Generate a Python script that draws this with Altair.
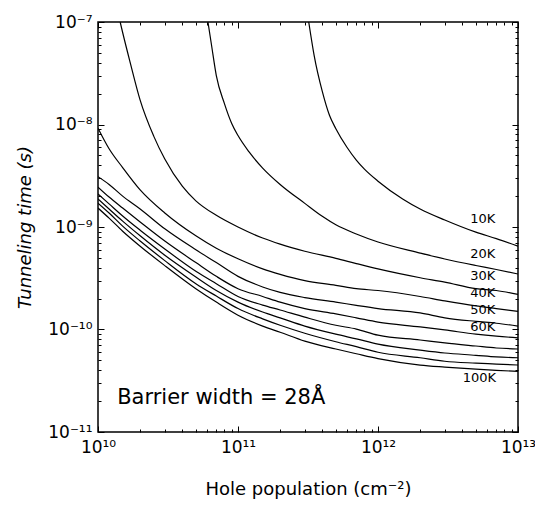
import altair as alt
import pandas as pd

# ---- data (x: hole population cm^-2, y: tunneling time s)
n_lower = [1e10, 1.2e10, 1.5e10, 2e10, 3e10, 5e10, 7e10, 1e11, 1.5e11, 2e11,
           3e11, 5e11, 7e11, 1e12, 2e12, 3e12, 5e12, 7e12, 1e13]

t_40K = [9.2e-9, 5.8e-9, 3.8e-9, 2.3e-9, 1.37e-9, 8.2e-10, 6.2e-10, 4.9e-10, 3.9e-10, 3.45e-10,
         3.0e-10, 2.7e-10, 2.5e-10, 2.4e-10, 2.1e-10, 1.9e-10, 1.7e-10, 1.6e-10, 1.5e-10]
t_50K = [3.1e-9, 2.6e-9, 2.0e-9, 1.5e-9, 9.6e-10, 6.0e-10, 4.5e-10, 3.3e-10, 2.6e-10, 2.3e-10,
         2.05e-10, 1.85e-10, 1.72e-10, 1.6e-10, 1.45e-10, 1.3e-10, 1.2e-10, 1.15e-10, 1.08e-10]
t_60K = [2.45e-9, 1.96e-9, 1.53e-9, 1.12e-9, 7.3e-10, 4.5e-10, 3.3e-10, 2.5e-10, 2.1e-10, 1.85e-10,
         1.6e-10, 1.42e-10, 1.3e-10, 1.18e-10, 1.06e-10, 9.9e-11, 9.0e-11, 8.6e-11, 8.3e-11]
t_70K = [2.1e-9, 1.68e-9, 1.28e-9, 9.3e-10, 6.1e-10, 3.7e-10, 2.8e-10, 2.1e-10, 1.73e-10, 1.55e-10,
         1.32e-10, 1.1e-10, 1.01e-10, 8.8e-11, 7.9e-11, 7.4e-11, 6.9e-11, 6.6e-11, 6.45e-11]
t_80K = [1.88e-9, 1.5e-9, 1.14e-9, 8.2e-10, 5.3e-10, 3.25e-10, 2.4e-10, 1.85e-10, 1.48e-10, 1.3e-10,
         1.08e-10, 9.0e-11, 8.1e-11, 7.2e-11, 6.3e-11, 5.9e-11, 5.6e-11, 5.4e-11, 5.3e-11]
t_90K = [1.71e-9, 1.37e-9, 1.02e-9, 7.3e-10, 4.7e-10, 2.8e-10, 2.12e-10, 1.6e-10, 1.27e-10, 1.1e-10,
         9.2e-11, 7.6e-11, 6.8e-11, 6.0e-11, 5.3e-11, 4.9e-11, 4.7e-11, 4.6e-11, 4.5e-11]
t_100K = [1.53e-9, 1.22e-9, 9.1e-10, 6.5e-10, 4.2e-10, 2.5e-10, 1.85e-10, 1.38e-10, 1.08e-10, 9.4e-11,
          7.7e-11, 6.45e-11, 5.8e-11, 5.2e-11, 4.5e-11, 4.3e-11, 4.1e-11, 4.0e-11, 3.9e-11]

n_30K = [1.44e10, 1.5e10, 1.7e10, 2e10, 2.5e10, 3e10, 4e10, 5e10, 7e10, 1e11, 1.5e11,
         2e11, 3e11, 5e11, 7e11, 1e12, 2e12, 3e12, 5e12, 7e12, 1e13]
t_30K = [1e-7, 7.9e-8, 4.0e-8, 1.73e-8, 7.7e-9, 4.6e-9, 2.5e-9, 1.8e-9, 1.3e-9, 1.0e-9, 7.8e-10,
         6.8e-10, 5.8e-10, 4.95e-10, 4.4e-10, 3.9e-10, 3.2e-10, 2.9e-10, 2.5e-10, 2.4e-10, 2.2e-10]

n_20K = [6.1e10, 6.5e10, 7e10, 8e10, 9e10, 1e11, 1.2e11, 1.5e11, 2e11, 3e11, 4e11,
         5e11, 7e11, 1e12, 2e12, 3e12, 5e12, 7e12, 1e13]
t_20K = [1e-7, 5.7e-8, 3.0e-8, 1.6e-8, 1.03e-8, 7.8e-9, 5.4e-9, 3.76e-9, 2.6e-9, 1.7e-9, 1.27e-9,
         1.05e-9, 8.55e-10, 7.14e-10, 5.57e-10, 4.87e-10, 4.21e-10, 3.85e-10, 3.48e-10]

n_10K = [3.2e11, 3.5e11, 4e11, 4.5e11, 5e11, 6e11, 7e11, 8e11, 1e12, 1.5e12,
         2e12, 3e12, 5e12, 7e12, 1e13]
t_10K = [1e-7, 4.7e-8, 2.1e-8, 1.23e-8, 9.1e-9, 6.0e-9, 4.5e-9, 3.67e-9, 2.8e-9, 1.88e-9,
         1.5e-9, 1.17e-9, 8.9e-10, 7.7e-10, 6.5e-10]

label_text = ["10K", "20K", "30K", "40K", "50K", "60K", "100K"]
label_n = [5.6e12, 5.6e12, 5.6e12, 5.6e12, 5.6e12, 5.6e12, 5.3e12]
label_t = [1.2e-9, 5.45e-10, 3.3e-10, 2.27e-10, 1.55e-10, 1.06e-10, 3.36e-11]

note_text = ["Barrier width = 28Å"]
note_n = [1.37e10]
note_t = [2.15e-11]

x_major = [1e10, 1e11, 1e12, 1e13]
y_major = [1e-11, 1e-10, 1e-9, 1e-8, 1e-7]
x_minor = [m * 10.0 ** e for e in (10, 11, 12) for m in range(2, 10)]
y_minor = [m * 10.0 ** e for e in (-11, -10, -9, -8) for m in range(2, 10)]

XDOM = [1e10, 1e13]
YDOM = [1e-11, 1e-7]

curves = {
    "10K": (n_10K, t_10K), "20K": (n_20K, t_20K), "30K": (n_30K, t_30K),
    "40K": (n_lower, t_40K), "50K": (n_lower, t_50K), "60K": (n_lower, t_60K),
    "70K": (n_lower, t_70K), "80K": (n_lower, t_80K), "90K": (n_lower, t_90K),
    "100K": (n_lower, t_100K),
}
rows = []
for name, (ns, ts) in curves.items():
    for n, t in zip(ns, ts):
        rows.append({"curve": name, "n": n, "t": t})
df = pd.DataFrame(rows)
labels_df = pd.DataFrame({"label": label_text, "n": label_n, "t": label_t})
note_df = pd.DataFrame({"txt": note_text, "n": note_n, "t": note_t})

FONT = "DejaVu Sans"

xlab = ("datum.value < 5e10 ? '10¹⁰' : datum.value < 5e11 ? '10¹¹' : "
        "datum.value < 5e12 ? '10¹²' : '10¹³'")
ylab = ("datum.value > 5e-8 ? '10⁻⁷' : datum.value > 5e-9 ? '10⁻⁸' : "
        "datum.value > 5e-10 ? '10⁻⁹' : datum.value > 5e-11 ? '10⁻¹⁰' : '10⁻¹¹'")


def xenc(axis):
    return alt.X("n:Q", scale=alt.Scale(type="log", domain=XDOM, nice=False), axis=axis)


def yenc(axis):
    return alt.Y("t:Q", scale=alt.Scale(type="log", domain=YDOM, nice=False), axis=axis)


def tick_axis(orient, values, size):
    return alt.Axis(orient=orient, values=values, offset=-size, tickSize=size,
                    tickColor="black", tickWidth=1, domain=False, grid=False,
                    labels=False, title=None)


ax_bottom = alt.Axis(orient="bottom", values=x_major, offset=-6, tickSize=6,
                     tickColor="black", tickWidth=1, domain=False, grid=False,
                     labelExpr=xlab, labelFont=FONT, labelFontSize=17, labelColor="black",
                     labelPadding=7, labelFlush=False, labelOverlap=False,
                     title="Hole population (cm⁻²)", titleFont=FONT, titleFontSize=18,
                     titleFontWeight="normal", titleColor="black", titlePadding=25)
ax_left = alt.Axis(orient="left", values=y_major, offset=-6, tickSize=6,
                   tickColor="black", tickWidth=1, domain=False, grid=False,
                   labelExpr=ylab, labelFont=FONT, labelFontSize=17, labelColor="black",
                   labelPadding=6, labelFlush=False, labelOverlap=False,
                   title="Tunneling time (s)", titleFont=FONT, titleFontSize=18,
                   titleFontWeight="normal", titleFontStyle="italic", titleColor="black",
                   titlePadding=13)

lines = alt.Chart(df).mark_line(color="black", strokeWidth=1.2, clip=True,
                                interpolate="monotone").encode(
    x=xenc(ax_bottom), y=yenc(ax_left), detail="curve:N")

ghost = alt.Chart(df).mark_line(strokeOpacity=0, clip=True)
top_right_major = ghost.encode(x=xenc(tick_axis("top", x_major, 6)),
                               y=yenc(tick_axis("right", y_major, 6)), detail="curve:N")
bottom_left_minor = ghost.encode(x=xenc(tick_axis("bottom", x_minor, 3)),
                                 y=yenc(tick_axis("left", y_minor, 3)), detail="curve:N")
top_right_minor = ghost.encode(x=xenc(tick_axis("top", x_minor, 3)),
                               y=yenc(tick_axis("right", y_minor, 3)), detail="curve:N")

text = alt.Chart(labels_df).mark_text(font=FONT, fontSize=13, color="black",
                                      align="center", baseline="middle").encode(
    x=xenc(None), y=yenc(None), text="label:N")

note = alt.Chart(note_df).mark_text(font=FONT, fontSize=21, color="black",
                                    align="left", baseline="middle").encode(
    x=xenc(None), y=yenc(None), text="txt:N")

chart = alt.layer(lines, top_right_major, bottom_left_minor, top_right_minor, text, note
                  ).resolve_scale(x="independent", y="independent").properties(
    width=420, height=410,
    padding={"left": 90, "top": 14, "right": 17, "bottom": 67},
    autosize=alt.AutoSizeParams(type="none"),
    background="white",
).configure_view(stroke="black", strokeWidth=1.5)

chart.save("out.html", embed_options={"renderer": "svg", "actions": False})
